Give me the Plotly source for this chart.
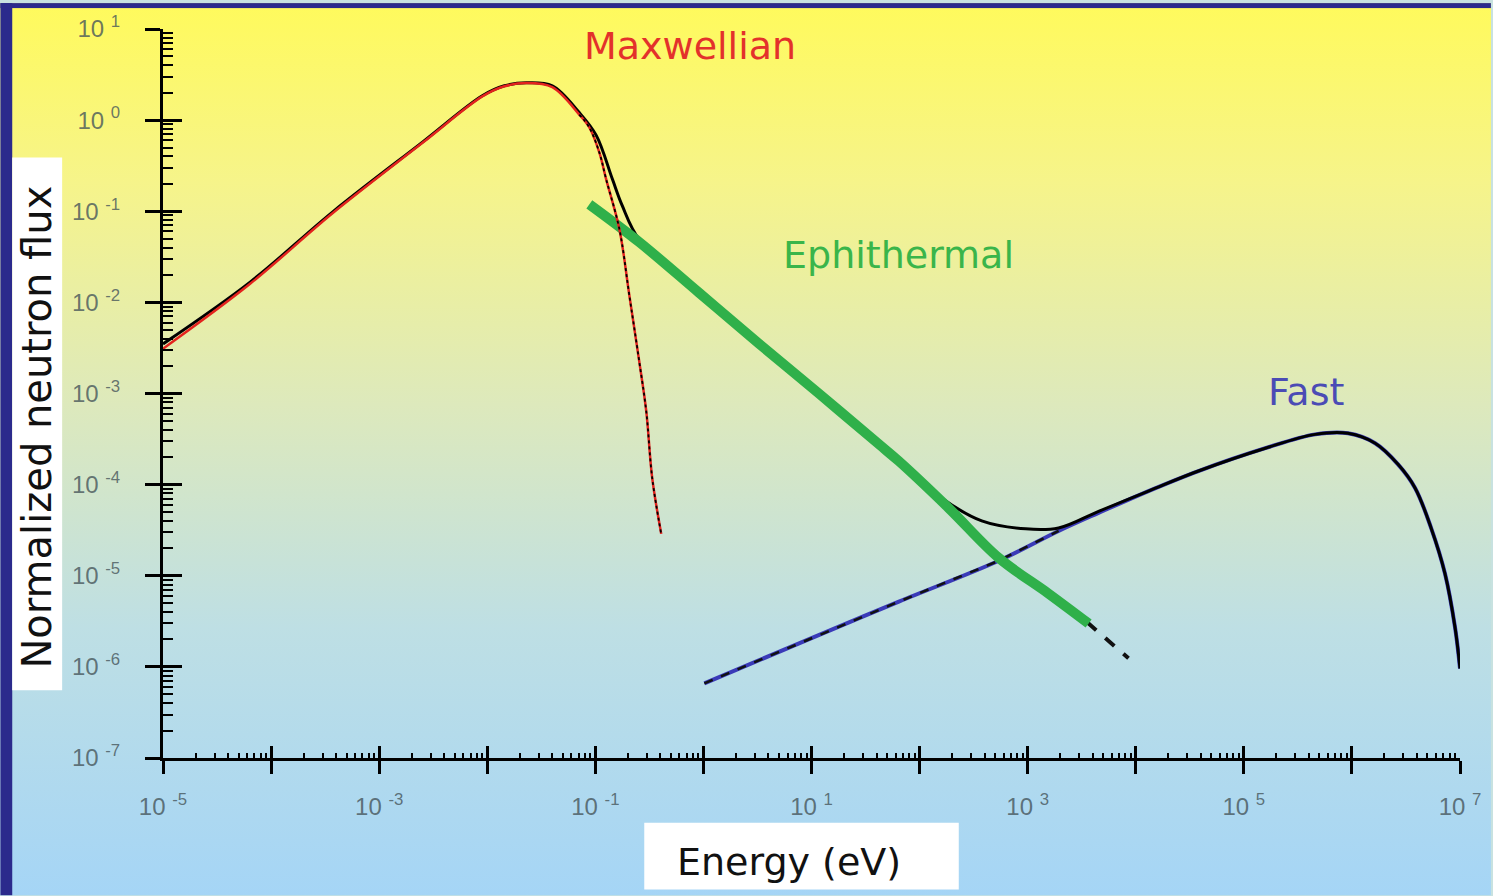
import base64
import plotly.graph_objects as go

# ---------------- data ----------------
E_total = [1e-5, 6.4e-5, 3.7e-4, 2.5e-3, 9.0e-3, 0.0144, 0.023, 0.040, 0.071, 0.102, 0.144,
           0.177, 0.255, 0.914, 7.67, 64.3, 160.6, 376, 959, 1932, 4529, 1.31e4, 3.80e4,
           1.58e5, 4.58e5, 9.2e5, 1.64e6, 2.67e6, 3.84e6, 5.40e6, 7.27e6, 9.0e6, 1e7]
phi_total = [3.5e-3, 1.67e-2, 9.8e-2, 0.57, 1.85, 2.38, 2.57, 2.38, 1.21, 0.68, 0.224,
             0.116, 0.049, 1.27e-2, 1.50e-3, 1.81e-4, 7.1e-5, 4.0e-5, 3.27e-5, 3.35e-5, 5.1e-5,
             8.5e-5, 1.41e-4, 2.51e-4, 3.56e-4, 3.66e-4, 2.85e-4, 1.67e-4, 9.2e-5, 3.35e-5,
             1.05e-5, 2.70e-6, 9.6e-7]

E_maxw = [1e-5, 6.4e-5, 3.7e-4, 2.5e-3, 9.0e-3, 0.0144, 0.023, 0.040, 0.071, 0.088, 0.109,
          0.126, 0.167, 0.206, 0.255, 0.296, 0.336, 0.407]
phi_maxw = [3.1e-3, 1.6e-2, 9.5e-2, 0.56, 1.82, 2.35, 2.55, 2.3, 1.15, 0.83, 0.44,
            0.224, 0.0636, 0.0121, 2.24e-3, 6.35e-4, 1.18e-4, 2.88e-5]

E_epi = [0.088, 0.255, 0.914, 3.27, 11.7, 42.1, 64.3, 186, 540, 1563, 3664]
phi_epi = [0.119, 0.0458, 1.27e-2, 3.52e-3, 1.0e-3, 2.77e-4, 1.81e-4, 5.53e-5, 1.57e-5,
           6.35e-6, 2.99e-6]

E_epi_ext = [1563, 3664, 8570]
phi_epi_ext = [6.35e-6, 2.99e-6, 1.24e-6]

E_fast = [1.02, 7.67, 64.3, 540, 1932, 4529, 1.31e4, 3.80e4, 1.58e5, 4.58e5, 9.2e5, 1.64e6,
          2.67e6, 3.84e6, 5.40e6, 7.27e6, 9.0e6, 1e7]
phi_fast = [6.6e-7, 1.81e-6, 5.2e-6, 1.46e-5, 3.1e-5, 4.9e-5, 8.5e-5, 1.41e-4, 2.51e-4,
            3.56e-4, 3.66e-4, 2.85e-4, 1.67e-4, 9.2e-5, 3.35e-5, 1.05e-5, 2.70e-6, 9.6e-7]

x_decades = list(range(-5, 8))
y_decades = list(range(-7, 2))
x_labels = [("10 <sup>%d</sup>" % d) if d % 2 else "" for d in x_decades]
y_labels = ["10 <sup>%d</sup>" % d for d in y_decades]

# ---------------- layout geometry ----------------
W, H = 1493, 896
L, R, T, B = 163, 31, 26, 138
PW, PH = W - L - R, H - T - B


def px(xp):
    return (xp - L) / PW


def py(yp):
    return (H - B - yp) / PH


NAVY = "#2B2A8C"
svg = (
    "<svg xmlns='http://www.w3.org/2000/svg' width='%d' height='%d' viewBox='0 0 %d %d' "
    "preserveAspectRatio='none'><defs><linearGradient id='g' x1='0' y1='0' x2='0' y2='1'>"
    "<stop offset='0' stop-color='#FFFA5C'/><stop offset='0.2' stop-color='#F6F48A'/>"
    "<stop offset='0.45' stop-color='#DDE9BC'/><stop offset='0.7' stop-color='#BEDFE4'/>"
    "<stop offset='1' stop-color='#A5D5F6'/></linearGradient></defs>"
    "<rect width='%d' height='%d' fill='url(#g)'/>"
    "<rect x='0' y='0' width='%d' height='5' fill='%s'/>"
    "<rect x='0' y='0' width='12' height='%d' fill='%s'/></svg>"
) % (W, H, W, H, W, H, W, NAVY, H, NAVY)
bg_src = "data:image/svg+xml;base64," + base64.b64encode(svg.encode()).decode()

fig = go.Figure()

# fast component
fig.add_trace(go.Scatter(x=E_fast, y=phi_fast, mode="lines",
                         line=dict(color="#3A3AB8", width=4, shape="spline", smoothing=1.0),
                         showlegend=False, hoverinfo="skip"))
fig.add_trace(go.Scatter(x=E_fast[:5], y=phi_fast[:5], mode="lines",
                         line=dict(color="#111111", width=2.5, dash="dash"),
                         showlegend=False, hoverinfo="skip"))
# epithermal dashed extension
fig.add_trace(go.Scatter(x=E_epi_ext, y=phi_epi_ext, mode="lines",
                         line=dict(color="#111111", width=4, dash="dash"),
                         showlegend=False, hoverinfo="skip"))
# total
fig.add_trace(go.Scatter(x=E_total, y=phi_total, mode="lines",
                         line=dict(color="#000000", width=3, shape="spline", smoothing=1.0),
                         showlegend=False, hoverinfo="skip"))
# epithermal
fig.add_trace(go.Scatter(x=E_epi, y=phi_epi, mode="lines",
                         line=dict(color="#2FB04A", width=10, shape="spline", smoothing=1.0),
                         showlegend=False, hoverinfo="skip"))
# maxwellian
fig.add_trace(go.Scatter(x=E_maxw, y=phi_maxw, mode="lines",
                         line=dict(color="#E3231E", width=2.5, shape="spline", smoothing=1.0),
                         showlegend=False, hoverinfo="skip"))
fig.add_trace(go.Scatter(x=E_maxw[8:], y=phi_maxw[8:], mode="lines",
                         line=dict(color="#000000", width=1.8, dash="dot", shape="spline",
                                   smoothing=1.0),
                         showlegend=False, hoverinfo="skip"))
# dummy for overlay axes (inner halves of major ticks)
fig.add_trace(go.Scatter(x=[], y=[], xaxis="x2", yaxis="y2", showlegend=False))

minor_x = [m * 10 ** d for d in x_decades[:-1] for m in range(2, 10)]
minor_y = [m * 10 ** d for d in y_decades[:-1] for m in range(2, 10)]
tickfont = dict(family="Liberation Sans, Arial, sans-serif", size=24,
                color="rgba(70,85,90,0.8)")

fig.update_layout(
    width=W, height=H,
    margin=dict(l=L, r=R, t=T, b=B),
    paper_bgcolor="#C8E2E0", plot_bgcolor="rgba(0,0,0,0)",
    xaxis=dict(type="log", range=[-5, 7], showgrid=False, zeroline=False,
               showline=True, linecolor="black", linewidth=3,
               tickvals=[10 ** d for d in x_decades], ticktext=x_labels,
               ticks="outside", ticklen=13, tickwidth=3, tickcolor="black",
               tickfont=tickfont, ticklabelstandoff=12,
               minor=dict(tickvals=minor_x, ticks="inside", ticklen=5, tickwidth=2,
                          tickcolor="black", showgrid=False)),
    yaxis=dict(type="log", range=[-7, 1], showgrid=False, zeroline=False,
               showline=True, linecolor="black", linewidth=3,
               tickvals=[10 ** d for d in y_decades], ticktext=y_labels,
               ticks="outside", ticklen=15, tickwidth=3, tickcolor="black",
               tickfont=tickfont, ticklabelstandoff=20,
               minor=dict(tickvals=minor_y, ticks="inside", ticklen=10, tickwidth=2,
                          tickcolor="black", showgrid=False)),
    xaxis2=dict(type="log", range=[-5, 7], overlaying="x", anchor="y2", showgrid=False,
                zeroline=False, showline=False, tickvals=[10 ** d for d in x_decades],
                ticks="inside", ticklen=12, tickwidth=3, tickcolor="black",
                showticklabels=False),
    yaxis2=dict(type="log", range=[-7, 1], overlaying="y", anchor="x2", showgrid=False,
                zeroline=False, showline=False, tickvals=[10 ** d for d in y_decades],
                ticks="inside", ticklen=19, tickwidth=3, tickcolor="black",
                showticklabels=False),
    images=[dict(source=bg_src, xref="paper", yref="paper", x=px(0), y=py(0),
                 sizex=W / PW, sizey=H / PH, xanchor="left", yanchor="top",
                 sizing="stretch", layer="below")],
    shapes=[
        dict(type="rect", xref="paper", yref="paper", x0=px(12), x1=px(62),
             y0=py(690), y1=py(155), fillcolor="white", line=dict(width=0), layer="above"),
        dict(type="rect", xref="paper", yref="paper", x0=px(645), x1=px(960),
             y0=py(890), y1=py(823), fillcolor="white", line=dict(width=0), layer="above"),
    ],
)

label_font = "DejaVu Sans, Verdana, sans-serif"


def label(text, xp, yp, color, size, angle=0):
    fig.add_annotation(text=text, xref="paper", yref="paper", x=px(xp), y=py(yp),
                       xanchor="center", yanchor="middle", textangle=angle,
                       showarrow=False, font=dict(family=label_font, size=size, color=color))


label("Maxwellian", 691, 43, "#E3312B", 38)
label("Ephithermal", 900, 253, "#3AB54A", 38)
label("Fast", 1308, 390, "#4B4BB5", 38)
label("Energy (eV)", 790, 862, "#111111", 38)
label("Normalized neutron flux", 37, 426, "#111111", 40, angle=-90)

fig.write_html("out.html")
